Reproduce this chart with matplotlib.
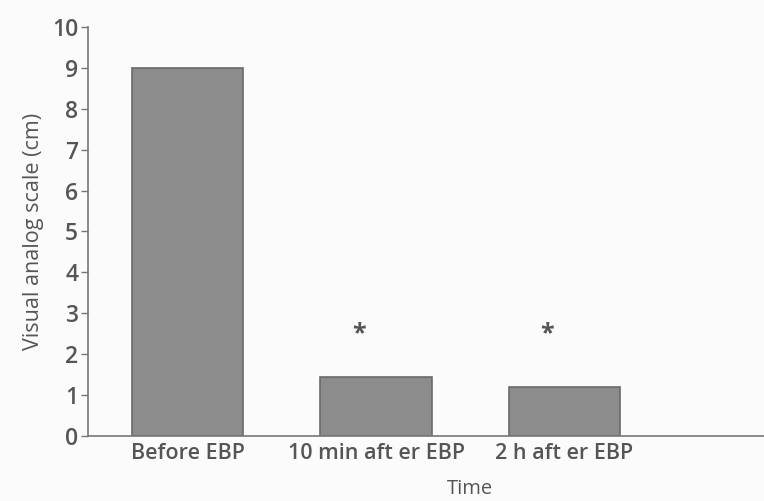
import matplotlib
matplotlib.use("Agg")
import matplotlib.pyplot as plt

categories = ["Before EBP", "10 min aft er EBP", "2 h aft er EBP"]
values = [9.0, 1.45, 1.2]
sig_marks = ["", "*", "*"]
sig_level = 2.5
yticks = list(range(0, 11))

plt.rcParams['font.family'] = ['Open Sans', 'DejaVu Sans']
txt = '#555555'

fig = plt.figure(figsize=(7.64, 5.01), dpi=100)
fig.patch.set_facecolor('#fbfbfb')
ax = fig.add_axes([0.115, 0.13, 0.885, 0.816])
ax.set_facecolor('#fbfbfb')

x = list(range(len(categories)))
ax.bar(x, values, width=0.59, color='#8c8c8c', edgecolor='#6a6a6a', linewidth=1.2, zorder=2)
for xi, m in zip(x, sig_marks):
    if m:
        ax.text(xi - 0.09, sig_level, m, ha='center', va='center', fontsize=18,
                color='#555555', fontweight='bold')

ax.set_xlim(-0.53, 3.06)
ax.set_ylim(0, 10)
ax.set_yticks(yticks)
ax.set_yticklabels([str(t) for t in yticks], fontsize=16.5, color=txt, fontweight='semibold')
ax.set_xticks(x)
ax.set_xticklabels(categories, fontsize=15.5, color=txt, fontweight='semibold')
ax.tick_params(axis='x', length=0, pad=5)
ax.tick_params(axis='y', length=5, width=1, color='#777777', pad=2)
for s in ['top', 'right']:
    ax.spines[s].set_visible(False)
for s in ['left', 'bottom']:
    ax.spines[s].set_color('#777777')
    ax.spines[s].set_linewidth(1.2)
ax.set_ylabel("Visual analog scale (cm)", fontsize=15.5, color=txt, labelpad=6)
ax.set_xlabel("Time", fontsize=14.5, color=txt)
ax.xaxis.set_label_coords((470 - 88) / (764 - 88), -0.105)

fig.savefig("out.png", dpi=100, facecolor=fig.get_facecolor())
